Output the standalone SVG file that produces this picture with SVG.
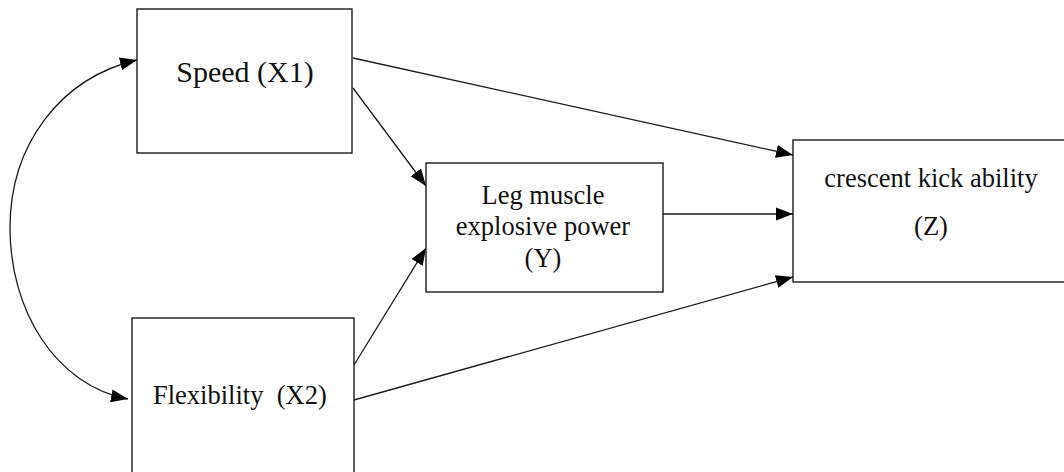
<svg xmlns="http://www.w3.org/2000/svg" width="1064" height="472" viewBox="0 0 1064 472">
<style>
.box{fill:#fff;stroke:#1a1a1a;stroke-width:1.4}
.lbl{font-family:"Liberation Serif","Times New Roman",serif;font-size:26.5px;fill:#111}
.con{fill:none;stroke:#1a1a1a;stroke-width:1.3}
</style>
<defs>
<marker id="ah" markerUnits="userSpaceOnUse" markerWidth="18" markerHeight="14" viewBox="0 0 18 14" refX="17" refY="7" orient="auto-start-reverse">
<path d="M0,0.5 L17,7 L0,13.5 Z" fill="#000"/>
</marker>
</defs>
<rect width="1064" height="472" fill="#fff"/>
<g id="connectors">
<path class="con" d="M353,58 L793,155" marker-end="url(#ah)"/>
<path class="con" d="M353,88 L426,186" marker-end="url(#ah)"/>
<path class="con" d="M354,365 L426,248" marker-end="url(#ah)"/>
<path class="con" d="M663,214 L793,214" marker-end="url(#ah)"/>
<path class="con" d="M354,400 L793,277" marker-end="url(#ah)"/>
<path class="con" d="M137,60 C60,78 10,145 10,228 C10,310 55,385 128,399" marker-start="url(#ah)" marker-end="url(#ah)"/>
</g>
<g id="speed">
<rect class="box" x="137" y="9" width="215" height="144"/>
<text class="lbl" x="245" y="82" text-anchor="middle" style="font-size:30px">Speed (X1)</text>
</g>
<g id="flexibility">
<rect class="box" x="132" y="318" width="222" height="170"/>
<text class="lbl" x="153" y="404">Flexibility&#160; (X2)</text>
</g>
<g id="leg">
<rect class="box" x="426" y="163" width="237" height="129"/>
<text class="lbl" x="543" y="204" text-anchor="middle">Leg muscle</text>
<text class="lbl" x="543" y="235" text-anchor="middle">explosive power</text>
<text class="lbl" x="543" y="267" text-anchor="middle">(Y)</text>
</g>
<g id="crescent">
<rect class="box" x="793" y="140" width="290" height="142"/>
<text class="lbl" x="931" y="187" text-anchor="middle">crescent kick ability</text>
<text class="lbl" x="931" y="235" text-anchor="middle">(Z)</text>
</g>
</svg>
